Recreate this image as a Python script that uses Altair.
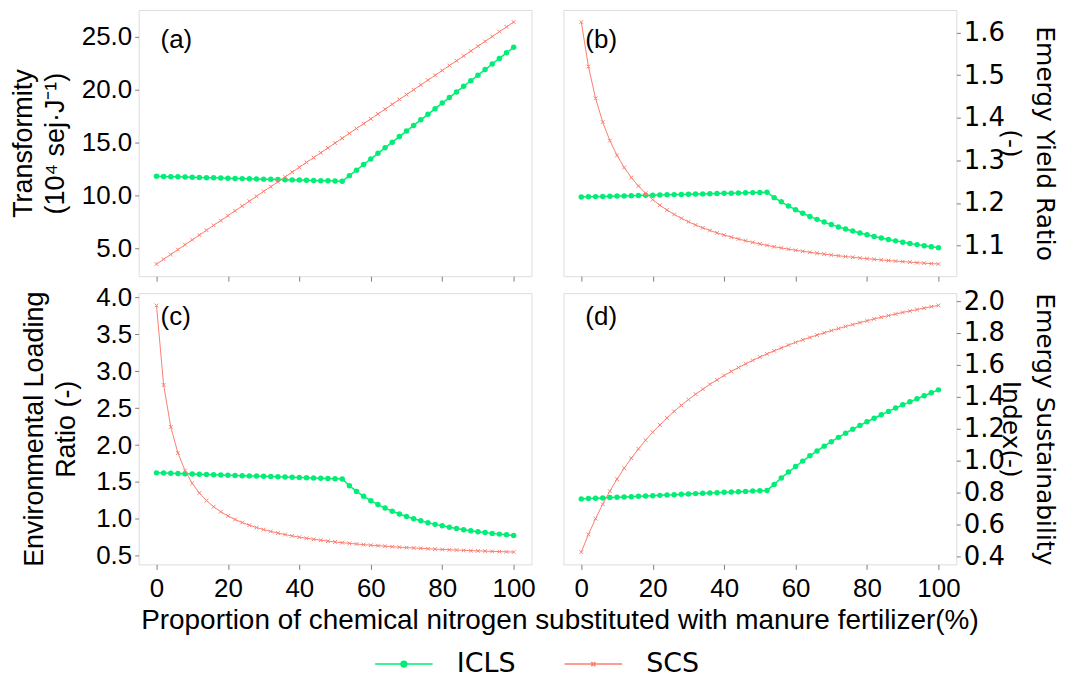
import altair as alt
import pandas as pd

GREEN = "#00EE76"
SALMON = "#FA8072"
FRAME = "#808080"

x_vals = [0, 2, 4, 6, 8, 10, 12, 14, 16, 18, 20, 22, 24, 26, 28, 30, 32, 34, 36, 38, 40,
          42, 44, 46, 48, 50, 52, 54, 56, 58, 60, 62, 64, 66, 68, 70, 72, 74, 76, 78, 80,
          82, 84, 86, 88, 90, 92, 94, 96, 98, 100]

# (a) Transformity (10^4 sej/J)
icls_tr = [11.82, 11.80, 11.78, 11.77, 11.75, 11.73, 11.71, 11.69, 11.68, 11.66, 11.64,
           11.62, 11.60, 11.59, 11.57, 11.55, 11.53, 11.51, 11.49, 11.48, 11.46, 11.44,
           11.42, 11.40, 11.39, 11.37, 11.35, 11.88, 12.40, 12.93, 13.46, 13.99, 14.51,
           15.04, 15.57, 16.09, 16.62, 17.15, 17.67, 18.20, 18.73, 19.25, 19.78, 20.31,
           20.84, 21.36, 21.89, 22.42, 22.94, 23.47, 24.00]
scs_tr = [3.53, 3.99, 4.44, 4.90, 5.36, 5.82, 6.27, 6.73, 7.19, 7.64, 8.10, 8.56, 9.01,
          9.47, 9.93, 10.39, 10.84, 11.30, 11.76, 12.21, 12.67, 13.13, 13.58, 14.04, 14.50,
          14.96, 15.41, 15.87, 16.33, 16.78, 17.24, 17.70, 18.15, 18.61, 19.07, 19.53,
          19.98, 20.44, 20.90, 21.35, 21.81, 22.27, 22.72, 23.18, 23.64, 24.10, 24.55,
          25.01, 25.47, 25.92, 26.38]

# (b) Emergy Yield Ratio
icls_eyr = [1.2140, 1.2144, 1.2148, 1.2153, 1.2157, 1.2161, 1.2165, 1.2170, 1.2174, 1.2178,
            1.2182, 1.2187, 1.2191, 1.2195, 1.2199, 1.2204, 1.2208, 1.2212, 1.2216, 1.2220,
            1.2225, 1.2229, 1.2233, 1.2237, 1.2242, 1.2246, 1.2250, 1.2124, 1.2025, 1.1930,
            1.1840, 1.1758, 1.1683, 1.1614, 1.1550, 1.1491, 1.1437, 1.1386, 1.1339, 1.1295,
            1.1253, 1.1214, 1.1177, 1.1142, 1.1109, 1.1078, 1.1049, 1.1021, 1.0995, 1.0970,
            1.0947]
scs_eyr = [1.6245, 1.5201, 1.4456, 1.3897, 1.3463, 1.3116, 1.2832, 1.2596, 1.2396, 1.2225,
           1.2076, 1.1946, 1.1832, 1.1730, 1.1639, 1.1557, 1.1482, 1.1415, 1.1353, 1.1297,
           1.1245, 1.1197, 1.1153, 1.1111, 1.1073, 1.1037, 1.1004, 1.0972, 1.0943, 1.0915,
           1.0889, 1.0864, 1.0841, 1.0819, 1.0798, 1.0778, 1.0759, 1.0741, 1.0724, 1.0707,
           1.0691, 1.0676, 1.0662, 1.0648, 1.0635, 1.0622, 1.0610, 1.0598, 1.0587, 1.0576,
           1.0566]

# (c) Environmental Loading Ratio
icls_elr = [1.623, 1.620, 1.617, 1.614, 1.610, 1.607, 1.604, 1.601, 1.598, 1.595, 1.591,
            1.588, 1.585, 1.582, 1.579, 1.576, 1.573, 1.569, 1.566, 1.563, 1.560, 1.557,
            1.554, 1.550, 1.547, 1.544, 1.541, 1.449, 1.372, 1.305, 1.246, 1.193, 1.146,
            1.104, 1.066, 1.032, 1.001, 0.973, 0.948, 0.925, 0.905, 0.886, 0.869, 0.853,
            0.839, 0.826, 0.814, 0.803, 0.793, 0.784, 0.775]
scs_elr = [3.891, 2.814, 2.245, 1.893, 1.654, 1.481, 1.350, 1.247, 1.164, 1.096, 1.040,
           0.991, 0.950, 0.914, 0.882, 0.854, 0.829, 0.807, 0.787, 0.769, 0.752, 0.737,
           0.723, 0.710, 0.698, 0.687, 0.677, 0.668, 0.659, 0.651, 0.643, 0.636, 0.629,
           0.622, 0.616, 0.610, 0.605, 0.600, 0.595, 0.590, 0.585, 0.581, 0.577, 0.573,
           0.569, 0.566, 0.562, 0.559, 0.556, 0.553, 0.550]

# (d) Emergy Sustainability Index
icls_esi = [0.759, 0.761, 0.763, 0.765, 0.767, 0.769, 0.771, 0.773, 0.775, 0.777, 0.779,
            0.781, 0.783, 0.785, 0.788, 0.790, 0.792, 0.794, 0.796, 0.798, 0.800, 0.802,
            0.804, 0.806, 0.808, 0.810, 0.812, 0.850, 0.890, 0.927, 0.962, 0.996, 1.029,
            1.060, 1.090, 1.118, 1.145, 1.171, 1.196, 1.220, 1.243, 1.265, 1.287, 1.308,
            1.329, 1.349, 1.368, 1.387, 1.406, 1.425, 1.443]
scs_esi = [0.425, 0.536, 0.635, 0.726, 0.808, 0.883, 0.951, 1.014, 1.073, 1.127, 1.177,
           1.223, 1.267, 1.308, 1.346, 1.382, 1.416, 1.447, 1.478, 1.506, 1.533, 1.559,
           1.583, 1.606, 1.628, 1.649, 1.669, 1.688, 1.706, 1.724, 1.741, 1.757, 1.772,
           1.787, 1.801, 1.815, 1.828, 1.841, 1.853, 1.865, 1.877, 1.888, 1.899, 1.909,
           1.919, 1.929, 1.938, 1.947, 1.956, 1.965, 1.973]

series_names = ["ICLS", "SCS"]
x_ticks = [0, 20, 40, 60, 80, 100]
X_TITLE = "Proportion of chemical nitrogen substituted with manure fertilizer(%)"

ICLS_LEG = "M-1,0L1,0M-0.1,0A0.1,0.1,0,1,1,0.1,0A0.1,0.1,0,1,1,-0.1,0Z"
SCS_LEG = "M-1,0L1,0M-0.07,-0.07L0.07,0.07M-0.07,0.07L0.07,-0.07"
X_SHAPE = "M-1,-1L1,1M-1,1L1,-1"

LEFT_W, RIGHT_W = 394, 394
TOP_H, BOT_H = 267, 272


def panel(icls, scs, ydom, yticks, ytitle, side, label, width, height, bottom,
          label_y=30, title_pad=12, xtitle=False, legend=False):
    df = pd.DataFrame({
        "x": x_vals + x_vals,
        "y": icls + scs,
        "series": ["ICLS"] * len(x_vals) + ["SCS"] * len(x_vals),
    })
    left = side == "left"
    tick_font = "Liberation Sans" if left else "DejaVu Sans"
    axis_kw = dict(
        orient=side, values=yticks, format=".1f", title=ytitle,
        labelFont=tick_font, labelFontSize=26, labelColor="black",
        tickColor=FRAME, tickSize=4, domain=False, grid=False, labelPadding=3,
        titleFont="Liberation Sans" if left else "DejaVu Sans",
        titleFontSize=27 if left else 25, titleFontWeight="normal",
        titleColor="black", titlePadding=title_pad,
        titleLineHeight=32 if left else 34,
    )
    yenc = alt.Y("y:Q", scale=alt.Scale(domain=ydom, nice=False, zero=False),
                 axis=alt.Axis(**axis_kw))
    xaxis_kw = dict(values=x_ticks, labels=bottom, ticks=True, tickSize=5,
                    tickColor=FRAME, domain=False, grid=False,
                    labelFont="Liberation Sans", labelFontSize=26,
                    labelColor="black", labelPadding=6)
    xscale = alt.Scale(domain=[-5, 105], nice=False, zero=False)
    if xtitle:
        xaxis_kw.update(title=X_TITLE, titleFont="Liberation Sans", titleFontSize=28,
                        titleFontWeight="normal", titleColor="black",
                        titleX=422, titleY=56, titleAlign="center",
                        titleBaseline="middle", titleAngle=0)
        xenc = alt.X("x:Q", scale=xscale, axis=alt.Axis(**xaxis_kw))
    else:
        xenc = alt.X("x:Q", scale=xscale, axis=alt.Axis(**xaxis_kw), title=None)

    base = alt.Chart(df).encode(x=xenc, y=yenc)
    icls_line = base.transform_filter("datum.series == 'ICLS'").mark_line(
        color=GREEN, strokeWidth=1.5)
    icls_pts = base.transform_filter("datum.series == 'ICLS'").mark_point(
        filled=True, shape="circle", size=30, color=GREEN, opacity=1)
    scs_line = base.transform_filter("datum.series == 'SCS'").mark_line(
        color=SALMON, strokeWidth=1)
    scs_pts = base.transform_filter("datum.series == 'SCS'").mark_point(
        shape=X_SHAPE, size=14, color=SALMON, strokeWidth=1, filled=False, opacity=1)
    txt = alt.Chart(pd.DataFrame({"t": [label]})).mark_text(
        align="left", baseline="middle", font="Liberation Sans", fontSize=26,
        color="black").encode(text="t:N", x=alt.value(22), y=alt.value(label_y))
    layers = [icls_line, icls_pts, scs_line, scs_pts, txt]
    if legend:
        leg = alt.Legend(orient="none", legendX=236, legendY=626, direction="horizontal",
                         title=None, symbolSize=3330, symbolStrokeWidth=1.5,
                         labelFont="DejaVu Sans", labelFontSize=27, labelColor="black",
                         labelOffset=23, columnPadding=46, padding=0, symbolOpacity=1)
        sdom = alt.Scale(domain=series_names, range=[ICLS_LEG, SCS_LEG])
        cdom = alt.Scale(domain=series_names, range=[GREEN, SALMON])
        leg_layer = base.transform_filter("datum.x < -1000").mark_point(opacity=1).encode(
            shape=alt.Shape("series:N", scale=sdom, legend=leg),
            fill=alt.Fill("series:N", scale=cdom, legend=leg),
            stroke=alt.Stroke("series:N", scale=cdom, legend=leg),
        )
        layers.append(leg_layer)
    return alt.layer(*layers).properties(width=width, height=height)


pa = panel(icls_tr, scs_tr, [2.39, 27.52], [5, 10, 15, 20, 25],
           ["Transformity", "(10⁴ sej·J⁻¹)"], "left", "(a)", LEFT_W, TOP_H, False)
pb = panel(icls_eyr, scs_eyr, [1.028, 1.653], [1.1, 1.2, 1.3, 1.4, 1.5, 1.6],
           ["Emergy Yield Ratio", "(-)"], "right", "(b)", RIGHT_W, TOP_H, False,
           title_pad=-7)
pc = panel(icls_elr, scs_elr, [0.383, 4.058], [0.5, 1.0, 1.5, 2.0, 2.5, 3.0, 3.5, 4.0],
           ["Environmental Loading", "Ratio (-)"], "left", "(c)", LEFT_W, BOT_H, True,
           label_y=24, title_pad=15, xtitle=True, legend=True)
pd_ = panel(icls_esi, scs_esi, [0.348, 2.050],
            [0.4, 0.6, 0.8, 1.0, 1.2, 1.4, 1.6, 1.8, 2.0],
            ["Emergy Sustainability", "Index(-)"], "right", "(d)", RIGHT_W, BOT_H, True,
            label_y=24, title_pad=-7)

chart = alt.concat(pa, pb, pc, pd_, columns=2, spacing={"row": 17, "column": 32},
                   bounds="flush").properties(
    padding={"left": 0, "top": 0, "right": 14, "bottom": 0}
).configure_view(stroke=FRAME, strokeWidth=1).configure(background="white")

chart.save("out.html", embed_options={"renderer": "svg", "actions": False})
